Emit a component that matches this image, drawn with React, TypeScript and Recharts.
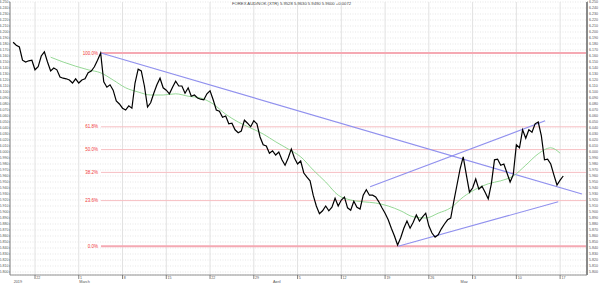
import React from 'react';
import { ComposedChart, Line, XAxis, YAxis, CartesianGrid, ReferenceLine } from 'recharts';

// two bars per calendar day, bar 7 = Fri 22 Feb 2019
const closes = [
  6.183, 6.178, 6.175, 6.153, 6.150, 6.152, 6.153, 6.137, 6.142, 6.160,
  6.167, 6.150, 6.135, 6.140, 6.137, 6.125, 6.123, 6.122, 6.120, 6.115,
  6.122, 6.115, 6.120, 6.122, 6.132, 6.135, 6.142, 6.153, 6.165, 6.117,
  6.108, 6.112, 6.103, 6.085, 6.080, 6.073, 6.070, 6.077, 6.073, 6.115,
  6.138, 6.135, 6.110, 6.075, 6.082, 6.098, 6.112, 6.123, 6.107, 6.103,
  6.097, 6.108, 6.118, 6.110, 6.110, 6.098, 6.107, 6.093, 6.095, 6.090,
  6.088, 6.087, 6.097, 6.102, 6.087, 6.070, 6.068, 6.058, 6.060, 6.047,
  6.048, 6.037, 6.032, 6.035, 6.053, 6.048, 6.042, 6.052, 6.047, 6.025,
  6.012, 6.010, 5.998, 6.002, 5.995, 6.000, 5.987, 5.978, 5.990, 6.005,
  5.990, 5.980, 5.985, 5.965, 5.958, 5.952, 5.928, 5.910, 5.897, 5.902,
  5.910, 5.902, 5.908, 5.923, 5.910, 5.920, 5.925, 5.907, 5.903, 5.918,
  5.908, 5.905, 5.928, 5.937, 5.928, 5.928, 5.925, 5.917, 5.907, 5.898,
  5.887, 5.873, 5.860, 5.845, 5.857, 5.873, 5.885, 5.873, 5.883, 5.895,
  5.885, 5.892, 5.898, 5.877, 5.865, 5.858, 5.862, 5.872, 5.880, 5.887,
  5.890, 5.918, 5.945, 5.972, 5.992, 5.962, 5.933, 5.940, 5.955, 5.938,
  5.943, 5.933, 5.922, 5.947, 5.987, 5.988, 5.978, 5.980, 5.965, 5.950,
  5.962, 6.012, 6.007, 6.037, 6.023, 6.037, 6.033, 6.047, 6.050, 6.027,
  5.987, 5.988, 5.980, 5.962, 5.945, 5.953, 5.960,
];

// moving average (green), sampled every few bars
const maBars = [
  12, 16, 20, 24, 28, 32, 36, 40, 44, 48, 52, 56, 60, 64, 68, 72, 76, 80, 84, 88, 92,
  96, 100, 104, 108, 112, 116, 120, 124, 128, 132, 136, 140, 144, 148, 152, 156, 160,
  164, 168, 172, 175,
];
const maValues = [
  6.158, 6.150, 6.143, 6.137, 6.132, 6.120, 6.107, 6.100, 6.095, 6.095, 6.097, 6.093,
  6.090, 6.080, 6.063, 6.050, 6.040, 6.030, 6.017, 6.005, 5.992, 5.970, 5.950, 5.928,
  5.920, 5.917, 5.915, 5.910, 5.902, 5.892, 5.890, 5.898, 5.907, 5.925, 5.938, 5.947,
  5.952, 5.960, 5.978, 5.997, 6.007, 5.998,
];

const yTicks = [
  5.80, 5.81, 5.82, 5.83, 5.84, 5.85, 5.86, 5.87, 5.88, 5.89, 5.90, 5.91, 5.92, 5.93,
  5.94, 5.95, 5.96, 5.97, 5.98, 5.99, 6.00, 6.01, 6.02, 6.03, 6.04, 6.05, 6.06, 6.07,
  6.08, 6.09, 6.10, 6.11, 6.12, 6.13, 6.14, 6.15, 6.16, 6.17, 6.18, 6.19, 6.20, 6.21,
  6.22, 6.23, 6.24, 6.25,
];

const weekBars = [7, 21, 35, 49, 63, 77, 91, 105, 119, 133, 147, 161, 175];
const weekLabels = ['22', '1', '8', '15', '22', '29', '5', '12', '19', '26', '3', '10', '17'];
const monthBars = [0, 21, 83, 143];
const monthLabels = ['2019', 'March', 'April', 'May'];

// fibonacci retracement from the Feb high to the Apr low
const fibLevels = [6.165, 6.042, 6.004, 5.966, 5.919, 5.843];
const fibLabels = ['100.0%', '61.8%', '50.0%', '38.2%', '23.6%', '0.0%'];
const fibStartBar = 28.1;

// trend lines: [bar1, price1, bar2, price2]
const trendLines = [
  [28.1, 6.165, 182.0, 5.930],
  [114.2, 5.942, 170.2, 6.052],
  [123.2, 5.843, 174.4, 5.917],
];

const X_MIN = -1;
const X_MAX = 183.6;

const rows = closes.map((close, i) => ({ bar: i, close }));
const maRows = maBars.map((bar, i) => ({ bar, ma: maValues[i] }));

const WeekTick = (props: any) => {
  const { x, y, payload } = props;
  const label = weekLabels[weekBars.indexOf(payload.value)];
  return (
    <g>
      <line x1={x} x2={x} y1={y} y2={y + 4} stroke="#666" strokeWidth={0.8} />
      <text x={x + 1.3} y={y + 3.6} fontSize={3.6} fill="#555">{label}</text>
    </g>
  );
};

const MonthTick = (props: any) => {
  const { x, y, payload } = props;
  const label = monthLabels[monthBars.indexOf(payload.value)];
  return (
    <text x={x + 0.5} y={y + 3.8} fontSize={3.8} fill="#555">{label}</text>
  );
};

export default function App() {
  return (
    <div style={{ position: 'absolute', left: 0, top: 0, width: 600, height: 283, background: '#fff', fontFamily: '"Liberation Sans", Arial, sans-serif' }}>
      <div style={{ position: 'absolute', left: 232, top: 1, fontSize: 4.2, color: '#444', whiteSpace: 'nowrap', zIndex: 2 }}>
        FOREX AUD/NOK (XTR) 5.9528 5.9630 5.9490 5.9600 +0.0072
      </div>
      <ComposedChart width={600} height={283} data={rows} margin={{ top: 2, right: 0, bottom: 0, left: 0 }}>
        <CartesianGrid horizontal vertical={false} stroke="#d6d6d6" strokeDasharray="1 1.5" strokeWidth={0.6} />
        <CartesianGrid horizontal={false} vertical stroke="#e2e2e2" strokeWidth={1} />
        <XAxis
          dataKey="bar"
          type="number"
          domain={[X_MIN, X_MAX]}
          ticks={weekBars}
          interval={0}
          height={4}
          tickSize={0}
          tickMargin={0}
          tick={<WeekTick />}
          axisLine={{ stroke: '#777', strokeWidth: 0.8 }}
          allowDataOverflow
        />
        <XAxis
          xAxisId="m"
          dataKey="bar"
          type="number"
          domain={[X_MIN, X_MAX]}
          ticks={monthBars}
          interval={0}
          height={4}
          tickSize={0}
          tickMargin={0}
          tick={<MonthTick />}
          axisLine={false}
          tickLine={false}
          allowDataOverflow
        />
        <YAxis
          domain={[5.795, 6.25]}
          ticks={yTicks}
          interval={0}
          width={10}
          tickSize={1}
          tickMargin={0.5}
          tick={{ fontSize: 3.6, fill: '#555' }}
          tickFormatter={(v: number) => v.toFixed(3)}
          axisLine={{ stroke: '#888', strokeWidth: 1 }}
          tickLine={{ stroke: '#888' }}
          allowDataOverflow
        />
        <YAxis
          yAxisId="right"
          orientation="right"
          domain={[5.795, 6.25]}
          ticks={yTicks}
          interval={0}
          width={13}
          tickSize={1}
          tickMargin={1}
          tick={{ fontSize: 3.6, fill: '#555' }}
          tickFormatter={(v: number) => v.toFixed(3)}
          axisLine={{ stroke: '#8a8a8a', strokeWidth: 2 }}
          tickLine={{ stroke: '#888' }}
          allowDataOverflow
        />
        {fibLevels.map((level, i) => {
          const outer = i === 0 || i === fibLevels.length - 1;
          return (
            <ReferenceLine
              key={fibLabels[i]}
              segment={[{ x: fibStartBar, y: level }, { x: X_MAX, y: level }]}
              stroke={outer ? '#f5a9b3' : '#f7bfc3'}
              strokeWidth={outer ? 2 : 1}
              label={{ value: fibLabels[i], position: 'left', fill: '#f03a3a', fontSize: 4.5, offset: 3 }}
            />
          );
        })}
        {trendLines.map((t, i) => (
          <ReferenceLine
            key={`trend-${i}`}
            segment={[{ x: t[0], y: t[1] }, { x: t[2], y: t[3] }]}
            stroke="#9090ee"
            strokeWidth={1.1}
          />
        ))}
        <Line
          data={maRows}
          dataKey="ma"
          type="monotone"
          stroke="#8ad48a"
          strokeWidth={0.9}
          dot={false}
          isAnimationActive={false}
        />
        <Line
          dataKey="close"
          type="linear"
          stroke="#000"
          strokeWidth={1.2}
          dot={false}
          isAnimationActive={false}
        />
      </ComposedChart>
    </div>
  );
}
